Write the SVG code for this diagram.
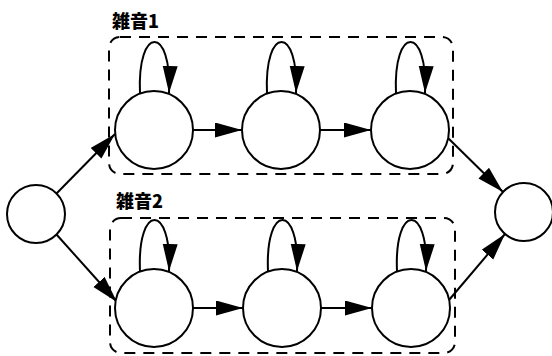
<svg xmlns="http://www.w3.org/2000/svg" width="552" height="356" viewBox="0 0 552 356">
<style>
.node{fill:#fff;stroke:#000;stroke-width:2}
.edge{fill:none;stroke:#000;stroke-width:2;marker-end:url(#ah)}
.box{fill:none;stroke:#000;stroke-width:2;stroke-dasharray:11 8}
.lbl{font-family:"Noto Sans CJK JP","Noto Sans CJK SC",sans-serif;font-weight:900;font-size:18px;fill:#000}
</style>
<defs>
<marker id="ah" markerUnits="userSpaceOnUse" markerWidth="30" markerHeight="18" refX="27" refY="7.5" orient="auto">
<path d="M0,0 L27,7.5 L0,15 z" fill="#000"/>
</marker>
</defs>
<rect fill="#fff" width="552" height="356"/>
<g id="group1">
<rect class="box" x="109" y="37" width="344" height="137" rx="11"/>
<text class="lbl" x="112" y="28">雑音1</text>
</g>
<g id="group2">
<rect class="box" x="110" y="218" width="345" height="135" rx="11"/>
<text class="lbl" x="116" y="208">雑音2</text>
</g>
<g id="connectors">
<path class="edge" d="M56.5,193.5 L115,134"/>
<path class="edge" d="M56.5,234.5 L117,302"/>
<path class="edge" d="M193,130 L242,130"/>
<path class="edge" d="M320,130 L371,130"/>
<path class="edge" d="M193,308 L243,308"/>
<path class="edge" d="M321,308 L372,308"/>
<path class="edge" d="M448,138 L503,192"/>
<path class="edge" d="M449,300 L505,234"/>
<path class="edge" d="M140,93 C137,25 172,25 169,93"/>
<path class="edge" d="M267,93 C264,25 299,25 296,93"/>
<path class="edge" d="M396,93 C393,25 428,25 425,93"/>
<path class="edge" d="M140,271 C137,203 172,203 169,271"/>
<path class="edge" d="M268,271 C265,203 300,203 297,271"/>
<path class="edge" d="M397,271 C394,203 429,203 426,271"/>
</g>
<g id="start"><circle class="node" cx="36" cy="214" r="29"/></g>
<g id="end"><circle class="node" cx="524" cy="212" r="29"/></g>
<g id="n1a"><circle class="node" cx="154" cy="130" r="39"/></g>
<g id="n1b"><circle class="node" cx="281" cy="130" r="39"/></g>
<g id="n1c"><circle class="node" cx="410" cy="130" r="39"/></g>
<g id="n2a"><circle class="node" cx="154" cy="308" r="39"/></g>
<g id="n2b"><circle class="node" cx="282" cy="308" r="39"/></g>
<g id="n2c"><circle class="node" cx="411" cy="308" r="39"/></g>
</svg>
